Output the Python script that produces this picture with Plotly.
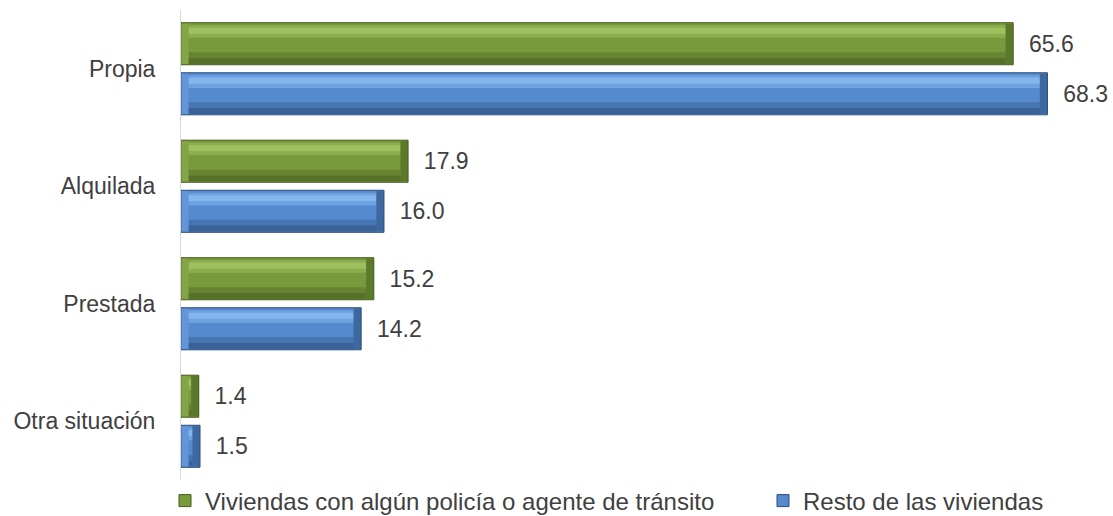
import plotly.graph_objects as go

categories = ["Propia", "Alquilada", "Prestada", "Otra situación"]
series_names = ["Viviendas con algún policía o agente de tránsito", "Resto de las viviendas"]
policia = [65.6, 17.9, 15.2, 1.4]
resto = [68.3, 16.0, 14.2, 1.5]

font_family = "Liberation Sans, Arial, sans-serif"
text_color = "#404040"
green = "#789A3C"
green_light = "#A6C866"
green_dark = "#465C1E"
blue = "#558ACF"
blue_light = "#8FBDF2"
blue_dark = "#2C4C7A"

W = 0.358
offsets = [-0.392, 0.034]
END = 0.6  # bevel depth at bar ends, in axis units
fig = go.Figure()

specs = [
    (policia, series_names[0], green, green_light, green_dark, offsets[0], "legend"),
    (resto, series_names[1], blue, blue_light, blue_dark, offsets[1], "legend2"),
]


def deco(x, base, off, width, color, opacity):
    fig.add_trace(go.Bar(
        y=categories, x=x, base=base, orientation="h", showlegend=False,
        hoverinfo="skip", offset=off, width=width,
        marker=dict(color=color, opacity=opacity, line=dict(width=0)),
    ))


for vals, name, c, cl, cd, off, lg in specs:
    fig.add_trace(go.Bar(
        y=categories, x=vals, orientation="h", name=name, legend=lg,
        offset=off, width=W,
        marker=dict(color=c, line=dict(color=cd, width=1)),
        text=["\u00a0\u00a0" + f"{v:.1f}" for v in vals], textposition="outside",
        textfont=dict(size=23, color=text_color, family=font_family),
        cliponaxis=False,
    ))
    inner_len = [max(v - 2 * END, 0.0) for v in vals]
    inner_base = [END if v > 2 * END else 0.0 for v in vals]
    # top highlight (two layers for a soft gradient)
    deco(inner_len, inner_base, off + 0.06 * W, 0.30 * W, cl, 0.45)
    deco(inner_len, inner_base, off + 0.12 * W, 0.14 * W, cl, 0.7)
    # bottom shade
    deco(inner_len, inner_base, off + 0.70 * W, 0.28 * W, cd, 0.35)
    deco(inner_len, inner_base, off + 0.84 * W, 0.14 * W, cd, 0.45)
    # right end bevel
    end_len = [min(END, v / 2) for v in vals]
    end_base = [v - e for v, e in zip(vals, end_len)]
    deco(end_len, end_base, off + 0.02 * W, 0.96 * W, cd, 0.55)
    # left end bevel
    deco(end_len, [0.0] * len(vals), off + 0.02 * W, 0.96 * W, cl, 0.25)

legend_common = dict(
    orientation="h", xref="container", yref="container",
    xanchor="left", yanchor="middle", y=1 - 501 / 516,
    font=dict(size=24, color=text_color, family=font_family),
    itemwidth=30, bgcolor="rgba(0,0,0,0)",
)
fig.update_layout(
    width=1113, height=516,
    margin=dict(l=181, r=44, t=10, b=36, autoexpand=False),
    barmode="overlay",
    plot_bgcolor="white", paper_bgcolor="white",
    font=dict(family=font_family, size=23, color=text_color),
    showlegend=True,
    legend=dict(x=165 / 1113, **legend_common),
    legend2=dict(x=763 / 1113, **legend_common),
    xaxis=dict(range=[0, 70], showgrid=False, zeroline=False, showticklabels=False,
               ticks="", showline=False),
    yaxis=dict(autorange="reversed", showgrid=False, zeroline=False, automargin=False,
               showline=True, linecolor="#D9D9D9", linewidth=1,
               ticks="", ticklabelstandoff=20,
               tickfont=dict(size=23, color=text_color, family=font_family)),
)

fig.write_html(
    "out.html",
    config={"displayModeBar": False},
    post_script="document.body.style.margin='0px';document.body.style.overflow='hidden';",
)
